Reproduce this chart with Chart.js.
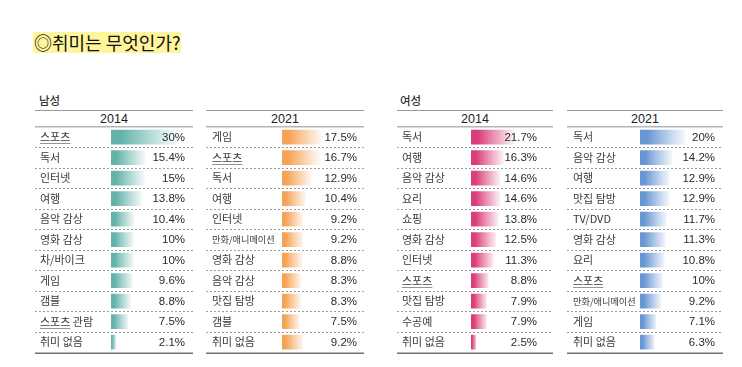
<!DOCTYPE html>
<html><head><meta charset="utf-8">
<script src="https://cdn.jsdelivr.net/npm/chart.js@4"></script>
<style>
html,body{margin:0;padding:0;background:#fff;width:742px;height:367px;overflow:hidden;font-family:"Noto Sans CJK KR","Noto Sans",sans-serif;}
#title{position:absolute;left:33px;top:32px;height:21px;line-height:21px;background:#fff59b;font-size:18px;color:#111;padding:0 1px;font-weight:400;}
.grp{position:absolute;top:92px;font-size:11.5px;color:#333;font-weight:500;}
.yr{position:absolute;top:111px;height:16px;line-height:16px;font-size:12.5px;color:#222;text-align:center;font-family:"Liberation Sans",Arial,sans-serif;}
canvas{position:absolute;}
</style></head><body>
<div id="title">◎취미는 무엇인가?</div>
<div class="grp" style="left:39px">남성</div>
<div class="grp" style="left:400px">여성</div>
<div class="yr" style="left:35px;width:158px">2014</div>
<div class="yr" style="left:206px;width:158px">2021</div>
<div class="yr" style="left:397px;width:156px">2014</div>
<div class="yr" style="left:567px;width:156px">2021</div>
<canvas id="c1"></canvas><canvas id="c2"></canvas><canvas id="c3"></canvas><canvas id="c4"></canvas>
<script>
const male2014Labels = ["스포츠","독서","인터넷","여행","음악 감상","영화 감상","차/바이크","게임","갬블","스포츠 관람","취미 없음"];
const male2014Values = [30,15.4,15,13.8,10.4,10,10,9.6,8.8,7.5,2.1];
const male2021Labels = ["게임","스포츠","독서","여행","인터넷","만화/애니메이션","영화 감상","음악 감상","맛집 탐방","갬블","취미 없음"];
const male2021Values = [17.5,16.7,12.9,10.4,9.2,9.2,8.8,8.3,8.3,7.5,9.2];
const female2014Labels = ["독서","여행","음악 감상","요리","쇼핑","영화 감상","인터넷","스포츠","맛집 탐방","수공예","취미 없음"];
const female2014Values = [21.7,16.3,14.6,14.6,13.8,12.5,11.3,8.8,7.9,7.9,2.5];
const female2021Labels = ["독서","음악 감상","여행","맛집 탐방","TV/DVD","영화 감상","요리","스포츠","만화/애니메이션","게임","취미 없음"];
const female2021Values = [20,14.2,12.9,12.9,11.7,11.3,10.8,10,9.2,7.1,6.3];

const panels = [
  {id:'c1', left:35, width:158, barStart:111, valRight:185, labels:male2014Labels, values:male2014Values, color:'#63b3ab'},
  {id:'c2', left:206, width:158, barStart:282, valRight:357, labels:male2021Labels, values:male2021Values, color:'#f6a254'},
  {id:'c3', left:397, width:156, barStart:471, valRight:537, labels:female2014Labels, values:female2014Values, color:'#da3d78'},
  {id:'c4', left:567, width:156, barStart:640, valRight:715, labels:female2021Labels, values:female2021Values, color:'#6796d3'}
];

const TOP = 110, HEIGHT = 249;

const panelPlugin = {
  id:'panelDeco',
  afterDraw(chart, args, opts){
    const c = chart.ctx, w = chart.width, ca = chart.chartArea, ys = chart.scales.y;
    c.save();
    c.strokeStyle = '#9a9a9a'; c.lineWidth = 1;
    c.beginPath(); c.moveTo(0,0.5); c.lineTo(w,0.5); c.stroke();
    c.strokeStyle = '#b5b5b5'; c.lineWidth = 1.5;
    c.beginPath(); c.moveTo(0,ca.top-0.25); c.lineTo(w,ca.top-0.25); c.stroke();
    c.strokeStyle = '#9c9c9c'; c.lineWidth = 1; c.setLineDash([2,2]);
    const n = chart.data.labels.length;
    for (let i=0;i<n-1;i++){
      const y = Math.round((ys.getPixelForValue(i)+ys.getPixelForValue(i+1))/2)+0.5;
      c.beginPath(); c.moveTo(0,y); c.lineTo(w,y); c.stroke();
    }
    c.setLineDash([]);
    c.strokeStyle = '#707070'; c.lineWidth = 1.5;
    c.beginPath(); c.moveTo(0,ca.bottom+0.75); c.lineTo(w,ca.bottom+0.75); c.stroke();
    const meta = chart.getDatasetMeta(0);
    c.fillStyle = '#2a2a2a'; c.font = '11.5px "Liberation Sans", Arial, sans-serif';
    c.textAlign = 'right'; c.textBaseline = 'middle';
    meta.data.forEach((el,i)=>{
      c.fillText(chart.data.datasets[0].data[i] + '%', opts.valRight, el.y+0.5);
    });
    c.strokeStyle = '#666'; c.lineWidth = 0.7;
    chart.data.labels.forEach((lab,i)=>{
      if (lab.startsWith('스포츠')){
        c.font = '11px "Noto Sans CJK KR", sans-serif';
        const tw = c.measureText('스포츠').width;
        const y = Math.round(ys.getPixelForValue(i) + 6) + 0.5;
        c.beginPath(); c.moveTo(ys.left, y); c.lineTo(ys.left+tw, y); c.stroke();
      }
    });
    c.restore();
  }
};

panels.forEach(p=>{
  const cv = document.getElementById(p.id);
  cv.style.left = p.left + 'px'; cv.style.top = TOP + 'px';
  cv.width = p.width; cv.height = HEIGHT;
  cv.style.width = p.width + 'px'; cv.style.height = HEIGHT + 'px';
  const labelPad = (p.id==='c2'||p.id==='c4') ? 6 : 5;
  new Chart(cv, {
    type:'bar',
    data:{labels:p.labels, datasets:[{data:p.values,
      backgroundColor:(ctx)=>{
        const chart = ctx.chart, xs = chart.scales.x;
        if (!xs || ctx.type!=='data') return p.color;
        const v = p.values[ctx.dataIndex];
        const x0 = xs.getPixelForValue(0), x1 = xs.getPixelForValue(v);
        if (!isFinite(x0) || !isFinite(x1)) return p.color;
        const g = chart.ctx.createLinearGradient(x0,0,x1+2,0);
        g.addColorStop(0,p.color);
        g.addColorStop(0.15,p.color);
        g.addColorStop(1,'rgba(255,255,255,0.9)');
        return g;
      },
      borderWidth:0, barPercentage:0.72, categoryPercentage:1}]},
    options:{
      indexAxis:'y', responsive:false, animation:false,
      devicePixelRatio:1,
      layout:{padding:{left:labelPad, right:p.width-(p.valRight-p.left)+2, top:17, bottom:2}},
      plugins:{legend:{display:false}, tooltip:{enabled:false}, panelDeco:{valRight:p.valRight-p.left}},
      scales:{
        x:{display:false, min:0, max:32},
        y:{
          grid:{display:false}, border:{display:false},
          afterFit:(s)=>{ s.width = (p.barStart-p.left)-labelPad; },
          ticks:{crossAlign:'far', color:'#3a3a3a', padding:0,
            font:(ctx)=>{
              const lab = p.labels[ctx.index] || '';
              return {family:'"Noto Sans CJK KR", sans-serif', size: lab.length>6 ? 9.2 : 11};
            }}
        }
      }
    },
    plugins:[panelPlugin]
  });
});
</script>
</body></html>
